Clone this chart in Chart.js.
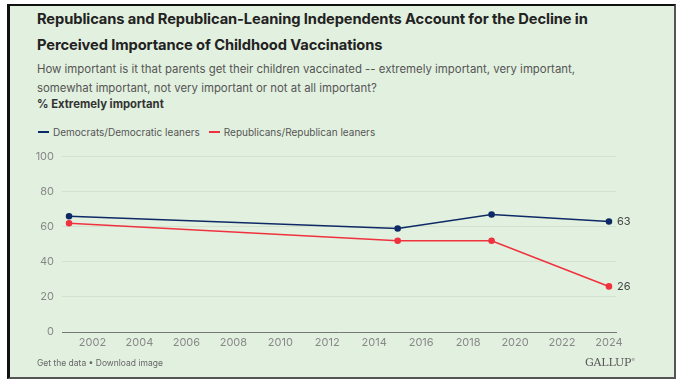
<!DOCTYPE html>
<html>
<head>
<meta charset="utf-8">
<script src="https://cdn.jsdelivr.net/npm/chart.js@4"></script>
<style>
  body { margin: 0; width: 676px; height: 379px; background: #fff; font-family: Inter, "Noto Sans", sans-serif; overflow: hidden; position: relative; }
  .frame { position: absolute; left: 7px; top: 4px; background: #e2f0df;
           border-left: 3px solid #111; border-top: 2px solid #111; border-right: 2px solid #555; border-bottom: 2px solid #555; box-sizing: border-box; width: 669px; height: 375px; }
  .title { position: absolute; left: 37px; top: 6px; font-size: 14.7px; font-weight: 700; color: #222; line-height: 26px; letter-spacing: -0.1px; }
  .sub { position: absolute; left: 37px; top: 60px; font-size: 11.4px; color: #555; line-height: 19px; }
  .measure { position: absolute; left: 37px; top: 97px; font-size: 11.3px; font-weight: 700; color: #333; }
  #legend { position: absolute; left: 38px; top: 126px; font-size: 10px; color: #555; display: flex; }
  #legend span.item { display: flex; align-items: center; margin-right: 9px; }
  #legend span.sw { display: inline-block; width: 11px; height: 1.5px; margin-right: 4px; }
  .foot { position: absolute; left: 37px; top: 358px; font-size: 8.5px; color: #666; }
  .brand { position: absolute; left: 585px; top: 356px; font-family: "DejaVu Serif", "Liberation Serif", serif; font-size: 11px; color: #555; letter-spacing: -0.2px; }
  #wrap { position: absolute; left: 10px; top: 142px; width: 660px; height: 218px; }
</style>
</head>
<body>
<div class="frame"></div>
<div class="title">Republicans and Republican-Leaning Independents Account for the Decline in<br>Perceived Importance of Childhood Vaccinations</div>
<div class="sub">How important is it that parents get their children vaccinated -- extremely important, very important,<br>somewhat important, not very important or not at all important?</div>
<div class="measure">% Extremely important</div>
<div id="legend"></div>
<div id="wrap"><canvas id="chart"></canvas></div>
<div class="foot">Get the data • Download image</div>
<div class="brand">GALLUP<sup style="font-size:4px">®</sup></div>
<script>
const years = [2001, 2015, 2019, 2024];
const democrats = [66, 59, 67, 63];
const republicans = [62, 52, 52, 26];
const seriesNames = ['Democrats/Democratic leaners', 'Republicans/Republican leaners'];
const seriesColors = ['#0d2a66', '#f0323f'];
const xTicks = [2002, 2004, 2006, 2008, 2010, 2012, 2014, 2016, 2018, 2020, 2022, 2024];
const yTicks = [0, 20, 40, 60, 80, 100];

document.getElementById('legend').innerHTML = seriesNames.map((n, i) =>
    `<span class="item"><span class="sw" style="background:${seriesColors[i]}"></span>${n}</span>`).join('');

const endLabels = {
    id: 'endLabels',
    afterDatasetsDraw(chart) {
        const ctx = chart.ctx;
        ctx.save();
        ctx.font = '11px Inter, sans-serif';
        ctx.fillStyle = '#444';
        ctx.textBaseline = 'middle';
        chart.data.datasets.forEach((ds, i) => {
            const meta = chart.getDatasetMeta(i);
            const pt = meta.data[meta.data.length - 1];
            ctx.fillText(ds.data[ds.data.length - 1].y, pt.x + 8, pt.y);
        });
        ctx.restore();
    }
};

const toPoints = vals => vals.map((v, i) => ({ x: years[i], y: v }));

new Chart(document.getElementById('chart').getContext('2d'), {
    type: 'line',
    data: {
        datasets: [
            { label: seriesNames[0], data: toPoints(democrats), borderColor: seriesColors[0], backgroundColor: seriesColors[0], borderWidth: 1.6, pointRadius: 2.5, tension: 0 },
            { label: seriesNames[1], data: toPoints(republicans), borderColor: seriesColors[1], backgroundColor: seriesColors[1], borderWidth: 1.6, pointRadius: 2.5, tension: 0 }
        ]
    },
    options: {
        responsive: true,
        maintainAspectRatio: false,
        animation: false,
        layout: { padding: { top: 8, right: 54, left: 0, bottom: 0 } },
        plugins: { legend: { display: false }, tooltip: { enabled: false } },
        scales: {
            x: {
                type: 'linear', min: 2000.7, max: 2024.3,
                afterBuildTicks: s => { s.ticks = xTicks.map(v => ({ value: v })); },
                grid: { display: false, drawTicks: false, tickLength: 0 },
                border: { color: '#777', width: 1 },
                ticks: { color: '#888', font: { size: 11, family: 'Inter' }, maxRotation: 0, padding: 4, callback: v => String(v) },
                afterFit: s => { s.height = 28; }
            },
            y: {
                min: 0, max: 100,
                afterBuildTicks: s => { s.ticks = yTicks.map(v => ({ value: v })); },
                grid: { color: '#d3e2cf', drawTicks: false },
                border: { display: false },
                ticks: { color: '#888', font: { size: 11, family: 'Inter' }, padding: 8 },
                afterFit: s => { s.width = 52; }
            }
        }
    },
    plugins: [endLabels]
});
</script>
</body>
</html>
